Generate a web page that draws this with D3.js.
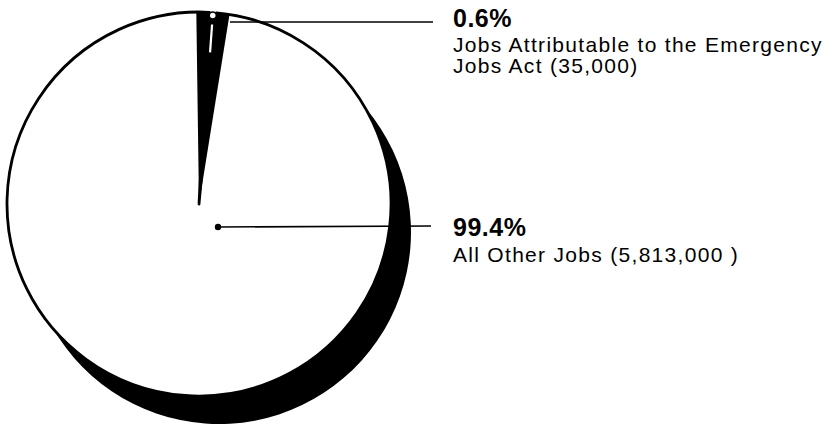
<!DOCTYPE html>
<html>
<head>
<meta charset="utf-8">
<script src="https://cdn.jsdelivr.net/npm/d3@7"></script>
<style>
    body { margin: 0; background: #fff; }
    text { font-family: "Liberation Sans", Arial, Helvetica, sans-serif; fill: #000; }
</style>
</head>
<body>
<script>
var categories = ["Jobs Attributable to the Emergency Jobs Act", "All Other Jobs"];
var jobs = [35000, 5813000];
var percentLabels = ["0.6%", "99.4%"];
var descLines = [
    ["Jobs Attributable to the Emergency", "Jobs Act (35,000)"],
    ["All Other Jobs (5,813,000 )"]
];

function drawPie() {
    var width = 840, height = 425;
    var cx = 199, cy = 204, radius = 192;
    var shadowDx = 20, shadowDy = 28;
    var textX = 453;

    var svg = d3.select("body").append("svg")
        .attr("width", width)
        .attr("height", height);

    // small slice sits just right of twelve o'clock
    var startAngle = 0.054;
    var pie = d3.pie()
        .sort(null)
        .value(function (d) { return d; })
        .startAngle(startAngle)
        .endAngle(startAngle + 2 * Math.PI);
    var arcs = pie(jobs);

    var arc = d3.arc().innerRadius(0).outerRadius(radius);

    // drop shadow: the same pie pushed down and right, all black
    svg.append("g")
        .attr("transform", "translate(" + (cx + shadowDx) + "," + (cy + shadowDy) + ")")
        .selectAll("path")
        .data(arcs)
        .enter().append("path")
        .attr("d", arc)
        .attr("fill", "#000");

    var pieGroup = svg.append("g")
        .attr("transform", "translate(" + cx + "," + cy + ")");

    pieGroup.append("path")
        .datum(arcs[1])
        .attr("d", arc)
        .attr("fill", "#fff")
        .attr("stroke", "#000")
        .attr("stroke-width", 2.8)
        .attr("stroke-linejoin", "round");

    // the small slice, drawn with its dark cut walls on either side
    var wall = 0.068;
    var small = arcs[0];
    pieGroup.append("path")
        .attr("d", arc({startAngle: small.startAngle - wall, endAngle: small.endAngle + wall}))
        .attr("fill", "#000");

    var mid = (small.startAngle + small.endAngle) / 2;
    function polar(r) {
        return [Math.sin(mid) * r, -Math.cos(mid) * r];
    }
    var s0 = polar(152), s1 = polar(180);
    pieGroup.append("line")
        .attr("x1", s0[0]).attr("y1", s0[1])
        .attr("x2", s1[0]).attr("y2", s1[1])
        .attr("stroke", "#fff")
        .attr("stroke-width", 2.2);
    var tip = polar(radius - 3);
    pieGroup.append("circle")
        .attr("cx", tip[0]).attr("cy", tip[1])
        .attr("r", 3.5)
        .attr("fill", "#fff")
        .attr("stroke", "#000")
        .attr("stroke-width", 1.5);

    // leader lines
    svg.append("line")
        .attr("x1", 230).attr("y1", 22)
        .attr("x2", 433).attr("y2", 22)
        .attr("stroke", "#000")
        .attr("stroke-width", 1.6);
    svg.append("line")
        .attr("x1", 218).attr("y1", 227)
        .attr("x2", 431).attr("y2", 226)
        .attr("stroke", "#000")
        .attr("stroke-width", 1.6);
    svg.append("circle")
        .attr("cx", 218).attr("cy", 227)
        .attr("r", 3.2)
        .attr("fill", "#000");

    // labels
    var labelTops = [27, 236];
    var descStart = [52, 262];
    percentLabels.forEach(function (p, i) {
        svg.append("text")
            .attr("x", textX)
            .attr("y", labelTops[i])
            .style("font-size", "25px")
            .style("font-weight", "bold")
            .style("letter-spacing", "0.5px")
            .text(p);
        descLines[i].forEach(function (line, j) {
            svg.append("text")
                .attr("x", textX)
                .attr("y", descStart[i] + j * 21)
                .style("font-size", "21px")
                .style("letter-spacing", "1.3px")
                .text(line);
        });
    });
}

drawPie();
</script>
</body>
</html>
